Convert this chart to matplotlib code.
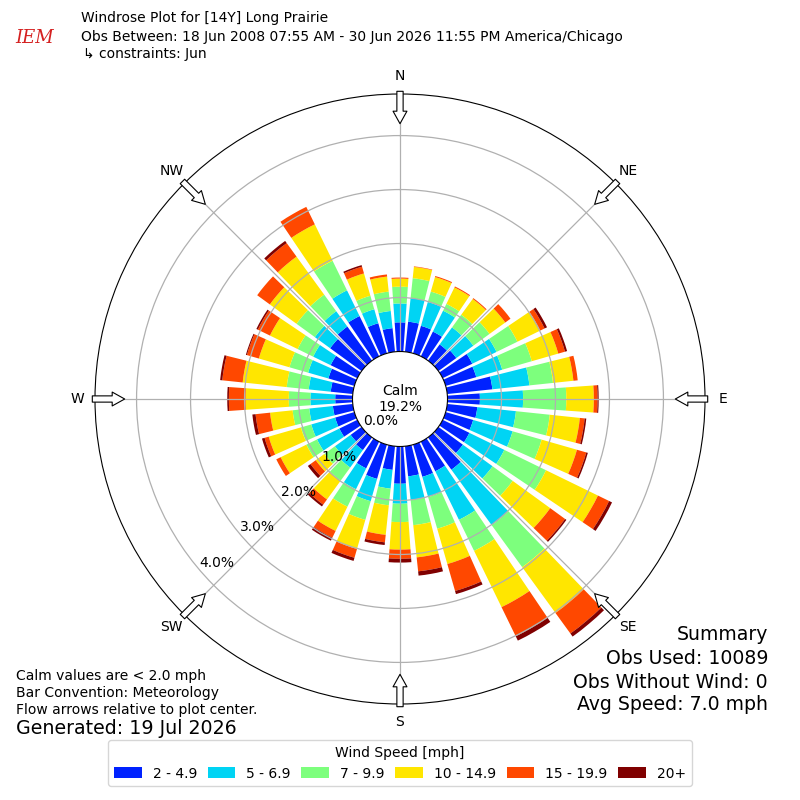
import numpy as np
import matplotlib

matplotlib.use("Agg")
import matplotlib.pyplot as plt
from matplotlib.patches import Patch
from matplotlib.transforms import offset_copy

# direction bins (degrees, meteorological convention), 10 degree wide
directions = np.arange(0, 360, 10)
speed_bins = ["2 - 4.9", "5 - 6.9", "7 - 9.9", "10 - 14.9", "15 - 19.9", "20+"]
colors = ["#0022ff", "#00d4f4", "#7dff7d", "#ffe600", "#ff4800", "#800000"]

# frequency [%] per direction for each speed bin
blue = [0.54, 0.56, 0.53, 0.51, 0.37, 0.41, 0.61, 0.59, 0.84, 0.60, 0.56, 0.53,
        0.55, 0.56, 0.74, 0.61, 0.62, 0.56, 0.69, 0.44, 0.66, 0.55, 0.29, 0.25,
        0.37, 0.37, 0.37, 0.32, 0.41, 0.50, 0.55, 0.72, 0.78, 0.83, 0.58, 0.44]
cyan = [0.35, 0.44, 0.46, 0.43, 0.39, 0.39, 0.50, 0.50, 0.69, 0.80, 0.72, 0.76,
        0.72, 0.68, 1.27, 1.00, 0.39, 0.44, 0.37, 0.35, 0.43, 0.43, 0.40, 0.36,
        0.46, 0.46, 0.44, 0.46, 0.41, 0.39, 0.36, 0.35, 0.35, 0.53, 0.27, 0.32]
green = [0.31, 0.37, 0.20, 0.14, 0.29, 0.37, 0.43, 0.57, 0.44, 0.80, 0.63, 0.56,
         0.86, 0.46, 0.96, 0.64, 0.61, 0.47, 0.34, 0.31, 0.36, 0.36, 0.30, 0.24,
         0.22, 0.20, 0.31, 0.40, 0.41, 0.36, 0.32, 0.42, 0.38, 0.61, 0.26, 0.36]
yellow = [0.15, 0.21, 0.28, 0.34, 0.36, 0.36, 0.47, 0.51, 0.38, 0.51, 0.56, 0.68,
          1.07, 0.86, 1.05, 1.16, 0.68, 0.60, 0.51, 0.55, 0.56, 0.50, 0.43, 0.20,
          0.53, 0.62, 0.42, 0.80, 0.82, 0.59, 0.57, 0.61, 0.87, 0.75, 0.43, 0.28]
orange = [0.02, 0.01, 0.02, 0.02, 0.02, 0.12, 0.09, 0.13, 0.08, 0.07, 0.09, 0.18,
          0.23, 0.34, 0.47, 0.60, 0.52, 0.26, 0.17, 0.14, 0.17, 0.14, 0.12, 0.12,
          0.09, 0.08, 0.27, 0.31, 0.38, 0.23, 0.25, 0.29, 0.31, 0.36, 0.13, 0.04]
darkred = [0, 0, 0, 0, 0, 0, 0.05, 0.04, 0, 0.02, 0.03, 0.03,
           0.06, 0.03, 0.07, 0.09, 0.06, 0.08, 0.07, 0.05, 0.06, 0.06, 0.04, 0.06,
           0, 0.05, 0.06, 0.03, 0.04, 0.02, 0.03, 0, 0.05, 0, 0.03, 0]
calm_pct = 19.2

compass = ["N", "NE", "E", "SE", "S", "SW", "W", "NW"]
rings = [0, 1, 2, 3, 4]

fig = plt.figure(figsize=(8, 8), dpi=100)
ax = fig.add_axes([0.11875, 0.12, 0.7625, 0.7625], projection="polar")
ax.set_theta_zero_location("N")
ax.set_theta_direction(-1)
ax.set_rlim(0, 4.77)
ax.set_rorigin(-0.88)

theta = np.deg2rad(directions)
width = np.deg2rad(8)
bottom = np.zeros(len(directions))
for vals, col in zip([blue, cyan, green, yellow, orange, darkred], colors):
    vals = np.array(vals)
    ax.bar(theta, vals, width=width, bottom=bottom, color=col, linewidth=0)
    bottom = bottom + vals

ax.set_thetagrids(range(0, 360, 45), labels=[""] * 8)
ax.set_rgrids([1, 2, 3, 4], labels=[""] * 4)
ax.grid(True, color="#b0b0b0", lw=0.9)

# compass labels and inward flow arrows
for i, lab in enumerate(compass):
    th = np.deg2rad(45 * i)
    ax.text(th, 5.1, lab, ha="center", va="center", fontsize=10)
    ax.annotate(
        "", xy=(th, 4.22), xytext=(th, 4.82),
        arrowprops=dict(arrowstyle="simple,head_length=0.9,head_width=1.0,tail_width=0.45",
                        fc="white", ec="black", lw=0.8, shrinkA=0, shrinkB=0),
        annotation_clip=False,
    )

lab_tr = offset_copy(ax.transData, fig=fig, x=16, y=9, units="dots")
for k in rings:
    ax.text(np.deg2rad(229), k, f"{k:.1f}%", transform=lab_tr,
            ha="center", va="center", fontsize=10)

ax.text(0.5, 0.5, f"Calm\n{calm_pct:.1f}%", transform=ax.transAxes,
        ha="center", va="center", fontsize=10)

# header
fig.text(81 / 800, 1 - 18 / 800, "Windrose Plot for [14Y] Long Prairie", va="center", fontsize=10)
fig.text(81 / 800, 1 - 37 / 800,
         "Obs Between: 18 Jun 2008 07:55 AM - 30 Jun 2026 11:55 PM America/Chicago",
         va="center", fontsize=10)
fig.text(83 / 800, 1 - 54 / 800, "\u21b3 constraints: Jun", va="center", fontsize=10)
fig.text(15 / 800, 1 - 38 / 800, "IEM", color="#d42020", style="italic",
         family="serif", fontsize=13, va="center")

# summary
for txt, y in zip(["Summary", "Obs Used: 10089", "Obs Without Wind: 0", "Avg Speed: 7.0 mph"],
                  [635, 659, 682, 705]):
    fig.text(768 / 800, 1 - y / 800, txt, ha="right", va="center", fontsize=13.6)

for txt, y in zip(["Calm values are < 2.0 mph", "Bar Convention: Meteorology",
                   "Flow arrows relative to plot center."], [676, 693, 710]):
    fig.text(16 / 800, 1 - y / 800, txt, va="center", fontsize=10)
fig.text(16 / 800, 1 - 729 / 800, "Generated: 19 Jul 2026", va="center", fontsize=13.7)

handles = [Patch(facecolor=c) for c in colors]
fig.legend(handles, speed_bins, loc="upper center", bbox_to_anchor=(0.5, 0.075),
           ncol=6, title="Wind Speed [mph]", fontsize=10, title_fontsize=10,
           handlelength=2.0, handleheight=0.8, columnspacing=0.75, borderaxespad=0)

fig.savefig("out.png", dpi=100)
